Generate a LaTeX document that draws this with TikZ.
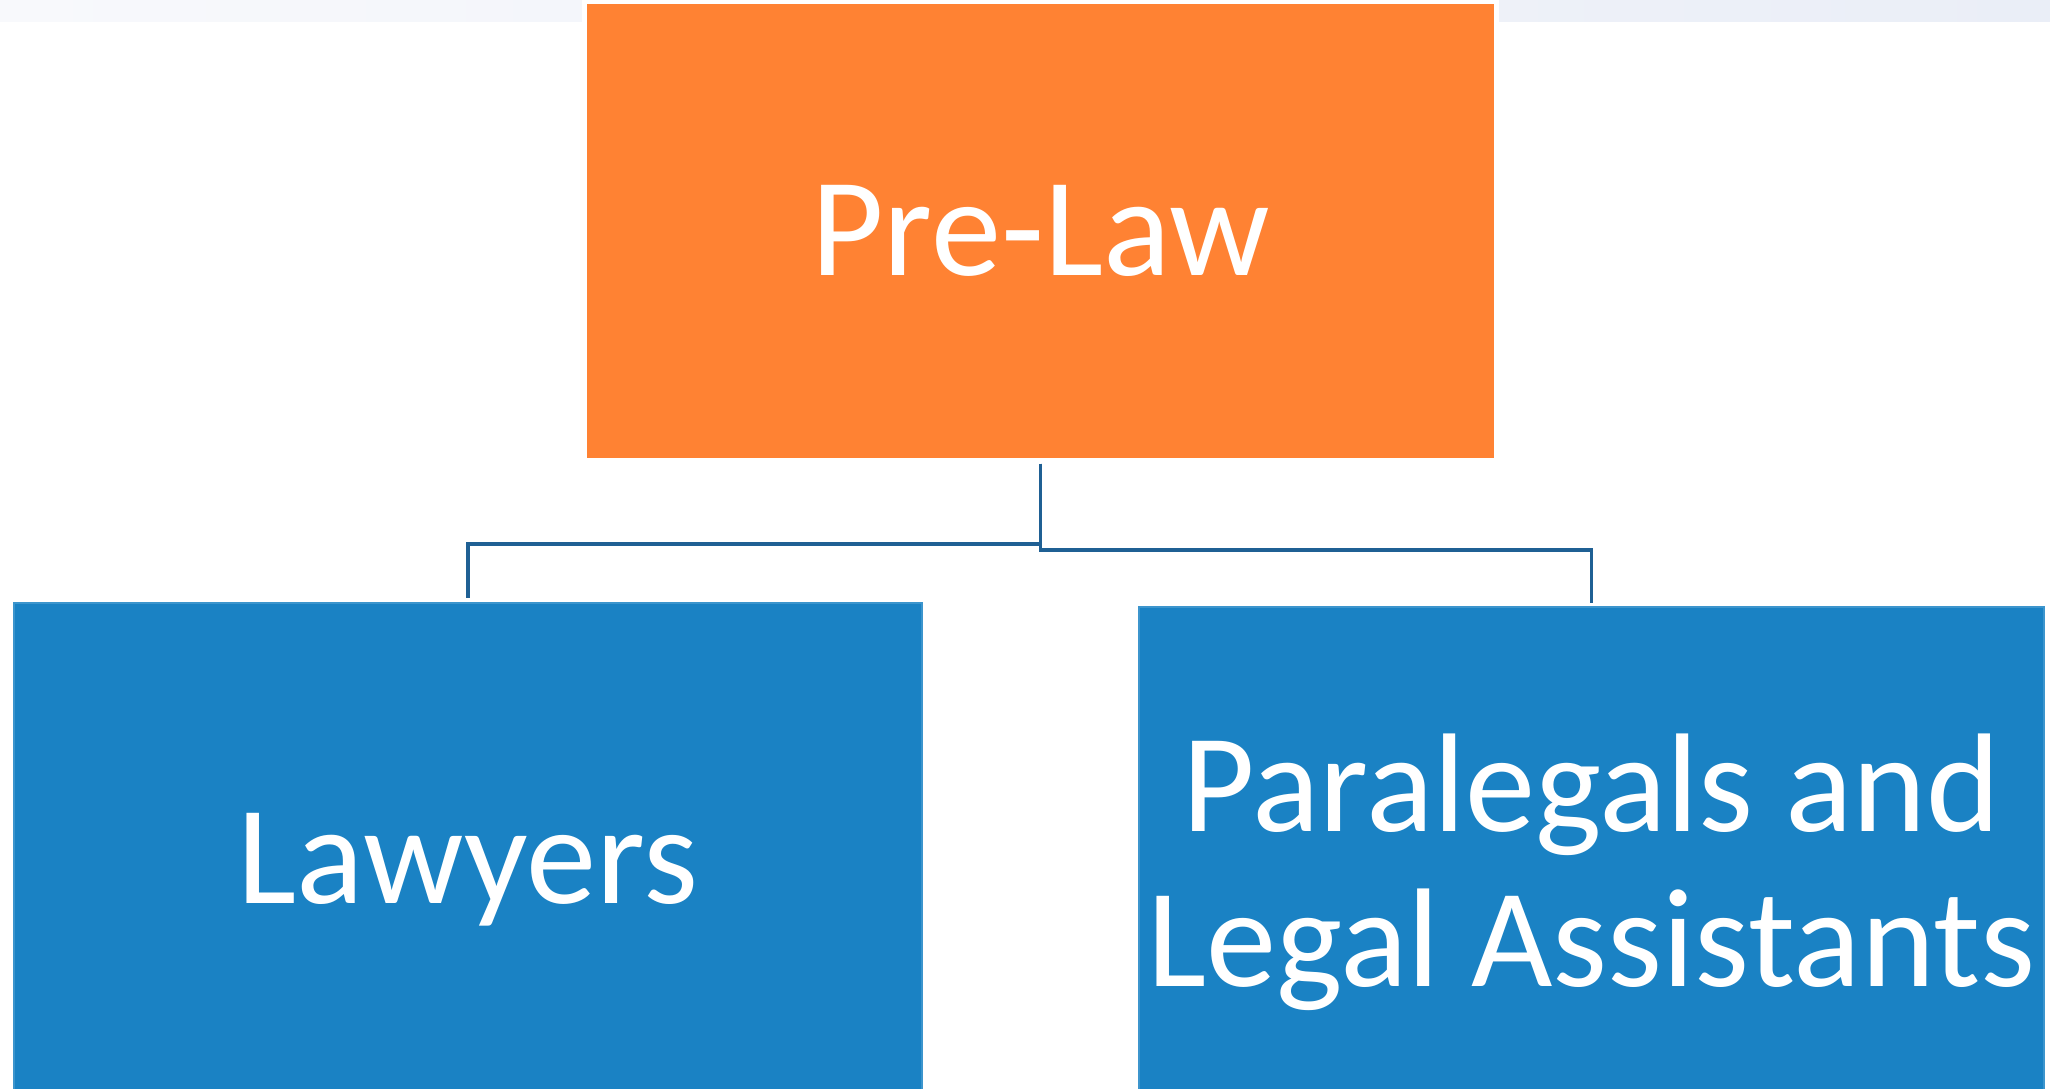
\documentclass[tikz,border=0pt]{standalone}
\usepackage{fontspec}
\setmainfont{Carlito}
\usepackage{xcolor}
\usepackage{tikz}
\usetikzlibrary{positioning}
\definecolor{preorange}{HTML}{FF8233}
\definecolor{lawblue}{HTML}{1A82C4}
\definecolor{linkblue}{HTML}{1F6094}
\definecolor{bandleft}{HTML}{F8F9FC}
\definecolor{bandright}{HTML}{EAEEF7}
\tikzset{link/.style = {draw=linkblue, line width=1.1pt}}

\begin{document}
\begin{tikzpicture}[box node/.style={rectangle,text=white,align=center,inner sep=0pt,font=\fontsize{40}{44}\selectfont}]
            \clip (0,0) rectangle (20.5,-10.89);
            \shade[left color=bandleft,right color=bandright] (0,0) rectangle (20.5,-0.22);
            \node[box node,fill=preorange,draw=white,line width=1.5pt,minimum width=9.12cm,minimum height=4.6cm] (pre) at (10.405,-2.31) {Pre-Law};
            \node[box node,fill=lawblue,draw=lawblue!85!white,line width=0.5pt,minimum width=9.08cm,minimum height=5.34cm] (lawyers) at (4.68,-8.70) {Lawyers};
            \node[box node,fill=lawblue,draw=lawblue!85!white,line width=0.5pt,minimum width=9.05cm,minimum height=5.3cm] (paralegals) at (15.915,-8.72) {Paralegals and\\Legal Assistants};
            \draw[link] (pre.south) -- ++(0,-0.8) -| ([yshift=0.04cm]lawyers.north);
            \draw[link] (pre.south) -- ++(0,-0.86) -| ([yshift=0.03cm]paralegals.north);
        \end{tikzpicture}
\end{document}
